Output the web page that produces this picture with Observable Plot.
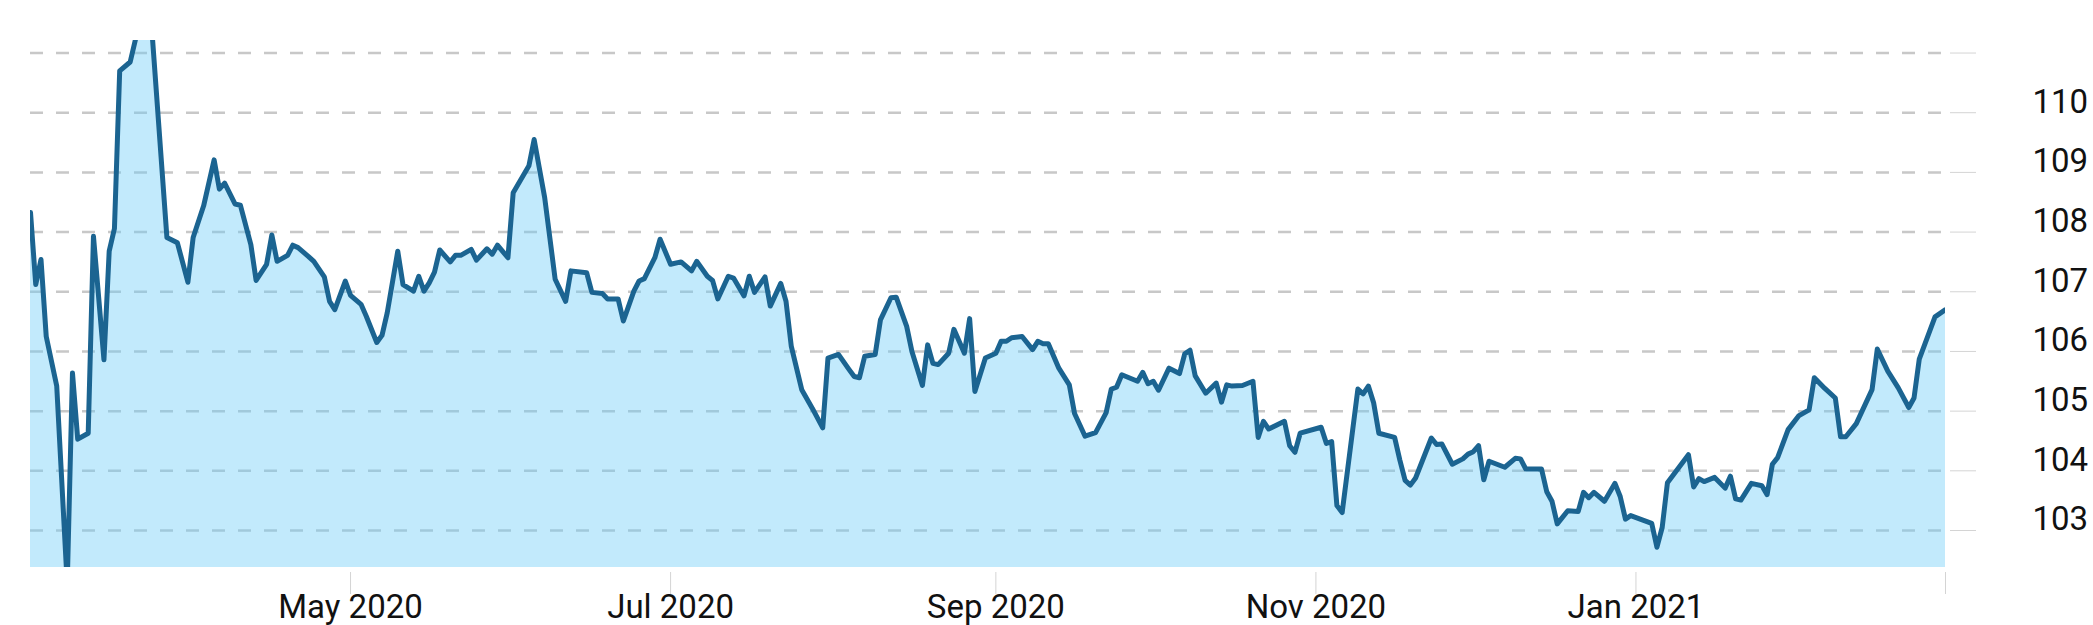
<!DOCTYPE html>
<html><head><meta charset="utf-8">
<script src="https://cdn.jsdelivr.net/npm/d3@7"></script>
<script src="https://cdn.jsdelivr.net/npm/@observablehq/plot@0.6"></script>
<style>html,body{margin:0;padding:0;background:#fff;} svg{display:block;font-family:Roboto,sans-serif;}</style>
</head><body><div id="chart"></div>
<script>
const dates = [
"2020-03-01","2020-03-02","2020-03-03","2020-03-04","2020-03-06","2020-03-08","2020-03-09","2020-03-10","2020-03-12","2020-03-13","2020-03-15","2020-03-16","2020-03-17","2020-03-18","2020-03-20","2020-03-22","2020-03-24","2020-03-27","2020-03-29","2020-03-31",
"2020-04-01","2020-04-03","2020-04-05","2020-04-06","2020-04-07","2020-04-09","2020-04-10","2020-04-12","2020-04-13","2020-04-15","2020-04-16","2020-04-17","2020-04-19","2020-04-20","2020-04-21","2020-04-23","2020-04-24","2020-04-26","2020-04-27","2020-04-28","2020-04-30",
"2020-05-01","2020-05-03","2020-05-04","2020-05-06","2020-05-07","2020-05-08","2020-05-10","2020-05-11","2020-05-13","2020-05-14","2020-05-15","2020-05-16","2020-05-17","2020-05-18","2020-05-20","2020-05-21","2020-05-22","2020-05-24","2020-05-25","2020-05-27","2020-05-28","2020-05-29","2020-05-31",
"2020-06-01","2020-06-04","2020-06-05","2020-06-07","2020-06-09","2020-06-11","2020-06-12","2020-06-15","2020-06-16","2020-06-18","2020-06-19","2020-06-21","2020-06-22","2020-06-24","2020-06-25","2020-06-26","2020-06-28","2020-06-29",
"2020-07-01","2020-07-03","2020-07-05","2020-07-06","2020-07-08","2020-07-09","2020-07-10","2020-07-12","2020-07-13","2020-07-15","2020-07-16","2020-07-17","2020-07-19","2020-07-20","2020-07-22","2020-07-23","2020-07-24","2020-07-26","2020-07-28","2020-07-30","2020-07-31",
"2020-08-02","2020-08-04","2020-08-05","2020-08-06","2020-08-07","2020-08-09","2020-08-10","2020-08-12","2020-08-13","2020-08-15","2020-08-16","2020-08-18","2020-08-19","2020-08-20","2020-08-21","2020-08-23","2020-08-24","2020-08-26","2020-08-27","2020-08-28","2020-08-30",
"2020-09-01","2020-09-02","2020-09-03","2020-09-04","2020-09-06","2020-09-08","2020-09-09","2020-09-10","2020-09-11","2020-09-13","2020-09-15","2020-09-16","2020-09-18","2020-09-20","2020-09-22","2020-09-23","2020-09-24","2020-09-25","2020-09-28","2020-09-29","2020-09-30",
"2020-10-01","2020-10-02","2020-10-04","2020-10-06","2020-10-07","2020-10-08","2020-10-09","2020-10-11","2020-10-13","2020-10-14","2020-10-15","2020-10-16","2020-10-18","2020-10-20","2020-10-21","2020-10-22","2020-10-23","2020-10-26","2020-10-27","2020-10-28","2020-10-29",
"2020-11-02","2020-11-03","2020-11-04","2020-11-05","2020-11-06","2020-11-09","2020-11-10","2020-11-11","2020-11-12","2020-11-13","2020-11-16","2020-11-17","2020-11-18","2020-11-19","2020-11-20","2020-11-23","2020-11-24","2020-11-25","2020-11-27","2020-11-29","2020-11-30",
"2020-12-01","2020-12-02","2020-12-03","2020-12-04","2020-12-07","2020-12-09","2020-12-10","2020-12-11","2020-12-14","2020-12-15","2020-12-16","2020-12-17","2020-12-19","2020-12-21","2020-12-22","2020-12-23","2020-12-24","2020-12-26","2020-12-28","2020-12-29","2020-12-30","2020-12-31",
"2021-01-04","2021-01-05","2021-01-06","2021-01-07","2021-01-11","2021-01-12","2021-01-13","2021-01-14","2021-01-16","2021-01-18","2021-01-19","2021-01-20","2021-01-21","2021-01-23","2021-01-25","2021-01-26","2021-01-27","2021-01-28","2021-01-30",
"2021-02-01","2021-02-03","2021-02-04","2021-02-06","2021-02-08","2021-02-09","2021-02-10","2021-02-12","2021-02-15","2021-02-16","2021-02-18","2021-02-20","2021-02-22","2021-02-23","2021-02-24","2021-02-27",
"2021-03-01"
];
const values = [
108.33,107.12,107.54,106.25,105.42,102.10,105.64,104.53,104.63,107.93,105.86,107.68,108.06,110.70,110.85,111.60,111.55,107.91,107.82,107.16,
107.91,108.44,109.21,108.72,108.82,108.47,108.45,107.79,107.19,107.46,107.95,107.51,107.61,107.78,107.74,107.59,107.51,107.25,106.84,106.70,107.18,
106.94,106.79,106.59,106.15,106.27,106.65,107.68,107.12,107.01,107.26,107.01,107.15,107.33,107.70,107.50,107.61,107.61,107.71,107.53,107.72,107.63,107.78,107.57,
108.66,109.11,109.55,108.58,107.21,106.84,107.35,107.32,106.99,106.97,106.88,106.88,106.51,107.01,107.18,107.22,107.57,107.88,
107.46,107.50,107.35,107.51,107.26,107.19,106.88,107.26,107.23,106.93,107.26,106.99,107.25,106.76,107.14,106.84,106.09,105.36,105.05,104.72,105.89,
105.95,105.70,105.58,105.56,105.92,105.95,106.53,106.90,106.91,106.42,106.00,105.43,106.11,105.80,105.78,105.97,106.37,105.97,106.55,105.33,105.89,
105.97,106.17,106.17,106.23,106.25,106.03,106.17,106.13,106.13,105.72,105.44,104.96,104.58,104.64,104.97,105.37,105.40,105.61,105.50,105.65,105.46,
105.50,105.35,105.72,105.63,105.96,106.02,105.59,105.30,105.47,105.15,105.44,105.42,105.43,105.50,104.56,104.83,104.70,104.83,104.42,104.31,104.63,
104.73,104.46,104.49,103.42,103.30,105.37,105.29,105.42,105.14,104.63,104.56,104.18,103.84,103.76,103.88,104.55,104.44,104.45,104.11,104.20,104.28,
104.32,104.42,103.85,104.16,104.06,104.21,104.20,104.03,104.03,103.65,103.49,103.11,103.33,103.32,103.64,103.55,103.64,103.49,103.79,103.57,103.19,103.25,
103.12,102.72,103.05,103.80,104.27,103.73,103.87,103.82,103.89,103.71,103.91,103.53,103.51,103.79,103.75,103.60,104.11,104.22,104.69,
104.92,105.02,105.56,105.38,105.22,104.57,104.57,104.79,105.36,106.04,105.67,105.39,105.06,105.22,105.87,106.58,
106.70
];
const yTicks = [103, 104, 105, 106, 107, 108, 109, 110, 111];
const yLabelled = [103, 104, 105, 106, 107, 108, 109, 110];
const xTicks = ["2020-05-01", "2020-07-01", "2020-09-01", "2020-11-01", "2021-01-01", "2021-03-01"];
const xLabelled = ["2020-05-01", "2020-07-01", "2020-09-01", "2020-11-01", "2021-01-01"];
const xDomain = ["2020-03-01", "2021-03-01"];
const yDomain = [102.38, 111.21];

const data = dates.map((d, i) => ({date: new Date(d), value: values[i]}));
const labelledX = new Set(xLabelled);
const fmtX = d3.utcFormat("%b %Y");
const isoX = d3.utcFormat("%Y-%m-%d");

const chart = Plot.plot({
  width: 2093,
  height: 625,
  marginLeft: 30,
  marginRight: 148,
  marginTop: 40,
  marginBottom: 58,
  x: {type: "utc", domain: xDomain.map(d => new Date(d))},
  y: {domain: yDomain},
  style: {fontFamily: "Roboto, sans-serif", background: "#fff", overflow: "visible"},
  marks: [
    Plot.ruleY(yTicks, {stroke: "#c8c8c8", strokeWidth: 2.5, strokeDasharray: "13,13"}),
    Plot.areaY(data, {x: "date", y: "value", fill: "#66caf7", fillOpacity: 0.4, clip: true}),
    Plot.lineY(data, {x: "date", y: "value", stroke: "#1b6491", strokeWidth: 5, strokeLinejoin: "round", clip: true}),
    Plot.axisY(yTicks, {anchor: "right", tickSize: 26, inset: -4, tickPadding: 57, stroke: "#d4d4d4",
      textAnchor: "start", lineAnchor: "bottom", fontSize: 33, fill: "#111", label: null,
      tickFormat: d => yLabelled.includes(d) ? String(d) : ""}),
    Plot.axisX(xTicks.map(d => new Date(d)), {anchor: "bottom", tickSize: 22, inset: -5, tickPadding: 23, stroke: "#d4d4d4",
      lineAnchor: "bottom", fontSize: 33, fill: "#111", label: null,
      tickFormat: d => labelledX.has(isoX(d)) ? fmtX(d) : ""})
  ]
});
document.getElementById("chart").appendChild(chart);
</script>
</body></html>
